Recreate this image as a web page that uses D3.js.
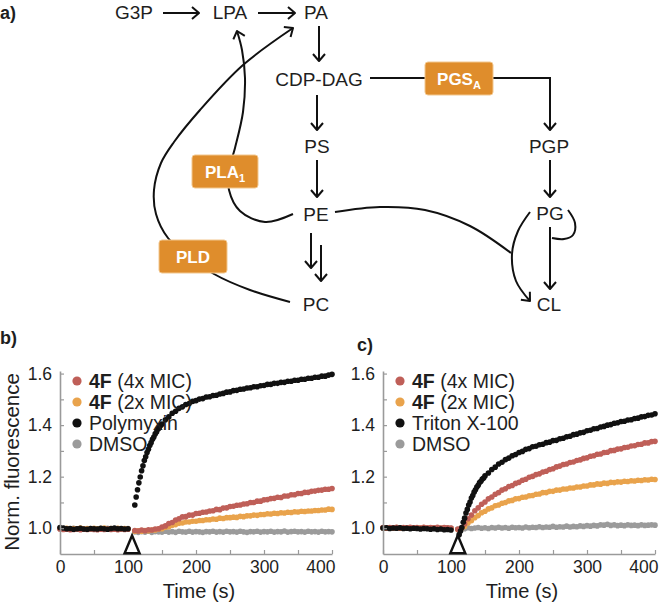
<!DOCTYPE html>
<html>
<head>
<meta charset="utf-8">
<script src="https://cdn.jsdelivr.net/npm/d3@7"></script>
<style>
  body { margin: 0; background: #fff; }
  svg text { font-family: "Helvetica Neue", "Liberation Sans", Arial, sans-serif; fill: #1e1e1e; }
</style>
</head>
<body>
<div id="figure"></div>
<script>
// ---- pathway (panel a) ----
const pathwayNodes = ["G3P", "LPA", "PA", "CDP-DAG", "PS", "PE", "PC", "PGP", "PG", "CL"];
const enzymeNames = ["PGS", "PLA", "PLD"];
const enzymeSubs = ["A", "1", ""];

// ---- shared axes ----
const yTicks = [1.0, 1.1, 1.2, 1.3, 1.4, 1.5, 1.6];
const yLabels = [1.0, 1.2, 1.4, 1.6];
const xTicks = [0, 50, 100, 150, 200, 250, 300, 350, 400];
const xLabels = [0, 100, 200, 300, 400];

// ---- sample times (s) ----
const preTime = [0,5,10,15,20,25,30,35,40,45,50,55,60,65,70,75,80,85,90,95,100];
const postTime = [110,115,120,125,130,135,140,145,150,155,160,165,170,175,180,185,190,195,200,205,
  210,215,220,225,230,235,240,245,250,255,260,265,270,275,280,285,290,295,300,305,
  310,315,320,325,330,335,340,345,350,355,360,365,370,375,380,385,390,395,400];
const polymyxinTime = [110,112,114,116,118,120,122,124,126,128,130,132,134,136,138,140,142,144,146,148,150,
  155,160,165,170,175,180,185,190,195,200,205,210,215,220,225,230,235,240,245,250,
  255,260,265,270,275,280,285,290,295,300,305,310,315,320,325,330,335,340,345,350,
  355,360,365,370,375,380,385,390,395,400];
const tritonTime = [112,114,116,118,120,122,124,126,128,130,132,134,136,138,140,142,144,146,148,150,
  155,160,165,170,175,180,185,190,195,200,205,210,215,220,225,230,235,240,245,250,
  255,260,265,270,275,280,285,290,295,300,305,310,315,320,325,330,335,340,345,350,
  355,360,365,370,375,380,385,390,395,400];

// ---- panel b ----
const legendB = ["Polymyxin", "DMSO"];
const injectB = 106;
const redBPre = [0.997,0.995,0.996,0.994,0.995,0.997,0.994,0.996,0.995,0.997,0.995,0.994,0.996,0.995,0.997,0.995,0.996,0.994,0.997,0.995,0.996];
const orangeBPre = [0.999,0.998,1.000,0.997,0.999,0.998,1.001,0.997,0.999,0.998,1.000,0.998,0.999,1.001,0.998,0.999,0.997,1.000,0.998,0.999,0.997];
const blackBPre = [1.003,1.001,0.998,0.999,0.996,0.998,1.000,0.997,0.996,0.999,0.998,0.997,1.000,0.998,0.996,0.999,1.001,0.998,0.999,0.997,0.998];
const grayBPre = [0.998,0.999,0.997,0.998,1.000,0.997,0.999,0.998,0.996,0.999,0.998,0.997,0.999,0.998,1.000,0.997,0.998,0.999,0.997,0.998,0.999];
const redB = [0.991,0.989,0.993,0.990,0.994,0.993,0.997,0.998,1.005,1.009,
  1.018,1.022,1.032,1.037,1.044,1.045,1.051,1.051,1.057,1.058,
  1.062,1.063,1.067,1.068,1.073,1.072,1.078,1.079,1.084,1.085,
  1.089,1.090,1.094,1.095,1.100,1.100,1.105,1.105,1.110,1.111,
  1.115,1.116,1.120,1.119,1.125,1.125,1.130,1.130,1.135,1.135,
  1.139,1.139,1.143,1.144,1.147,1.148,1.151,1.151,1.154];
const orangeB = [0.988,0.990,0.988,0.991,0.990,0.993,0.993,0.997,0.998,1.004,
  1.006,1.012,1.014,1.019,1.020,1.024,1.024,1.027,1.027,1.030,
  1.030,1.033,1.033,1.036,1.035,1.039,1.038,1.041,1.041,1.043,
  1.042,1.046,1.045,1.048,1.048,1.051,1.050,1.053,1.053,1.056,
  1.055,1.058,1.057,1.060,1.059,1.062,1.061,1.064,1.063,1.066,
  1.065,1.067,1.067,1.069,1.069,1.071,1.071,1.074,1.073];
const grayB = [0.986,0.984,0.987,0.985,0.988,0.984,0.987,0.986,0.985,0.988,
  0.985,0.987,0.984,0.988,0.986,0.985,0.988,0.985,0.987,0.986,
  0.984,0.987,0.986,0.988,0.985,0.987,0.985,0.988,0.986,0.987,
  0.985,0.988,0.986,0.984,0.987,0.986,0.988,0.985,0.987,0.986,
  0.988,0.985,0.987,0.986,0.989,0.985,0.987,0.988,0.986,0.987,
  0.985,0.988,0.986,0.987,0.985,0.988,0.986,0.987,0.986];
const polymyxin = [1.090,1.121,1.149,1.176,1.199,1.223,1.242,1.263,1.277,1.294,1.306,1.321,1.332,1.345,1.354,1.366,1.373,1.384,1.390,1.399,1.404,
  1.421,1.432,1.446,1.454,1.465,1.471,1.480,1.484,1.492,1.495,
  1.501,1.503,1.509,1.510,1.515,1.516,1.521,1.523,1.528,1.529,
  1.534,1.535,1.539,1.540,1.544,1.545,1.549,1.549,1.553,1.554,
  1.558,1.558,1.562,1.562,1.566,1.566,1.570,1.570,1.574,1.574,
  1.578,1.578,1.582,1.582,1.586,1.586,1.590,1.590,1.594,1.597];

// ---- panel c ----
const legendC = ["Triton X-100", "DMSO"];
const injectC = 110;
const redCPre = [1.003,1.001,1.003,1.002,1.004,1.001,1.003,1.002,1.004,1.002,1.003,1.001,1.004,1.002,1.003,1.002,1.004,1.001,1.003,1.002,1.001];
const orangeCPre = [1.002,1.000,1.002,1.001,1.003,1.000,1.002,1.001,1.002,1.000,1.002,1.001,1.003,1.000,1.002,1.001,1.002,1.000,1.001,1.000,0.999];
const blackCPre = [1.001,1.002,0.999,1.001,1.000,1.002,0.999,1.000,0.998,1.000,0.999,0.997,0.999,0.998,0.996,0.998,0.995,0.997,0.994,0.995,0.993];
const grayCPre = [1.001,1.002,1.000,1.001,1.002,1.000,1.001,1.002,1.000,1.001,1.002,1.000,1.001,1.001,1.000,1.002,1.001,1.000,1.001,1.002,1.000];
const redC = [0.996,1.001,1.017,1.037,1.051,1.068,1.079,1.093,1.102,1.114,
  1.121,1.132,1.138,1.148,1.153,1.162,1.166,1.174,1.178,1.186,
  1.190,1.198,1.201,1.208,1.211,1.218,1.221,1.228,1.231,1.238,
  1.241,1.247,1.249,1.255,1.257,1.263,1.265,1.271,1.273,1.279,
  1.281,1.287,1.288,1.294,1.295,1.301,1.302,1.307,1.308,1.313,
  1.314,1.319,1.320,1.325,1.326,1.331,1.331,1.336,1.337];
const orangeC = [0.995,0.999,1.007,1.020,1.029,1.041,1.049,1.060,1.066,1.075,
  1.079,1.087,1.090,1.097,1.100,1.106,1.108,1.114,1.115,1.120,
  1.121,1.126,1.127,1.132,1.133,1.138,1.138,1.143,1.143,1.148,
  1.148,1.152,1.152,1.156,1.156,1.160,1.160,1.164,1.164,1.168,
  1.168,1.172,1.171,1.175,1.174,1.178,1.177,1.180,1.179,1.182,
  1.181,1.184,1.183,1.186,1.185,1.188,1.187,1.190,1.189];
const grayC = [0.997,1.000,0.998,1.002,0.999,1.001,1.003,1.000,1.002,0.999,
  1.003,1.001,1.004,1.001,1.003,1.000,1.004,1.002,1.003,1.001,
  1.005,1.002,1.004,1.003,1.006,1.003,1.005,1.004,1.007,1.004,
  1.006,1.005,1.008,1.005,1.007,1.006,1.009,1.007,1.010,1.008,
  1.011,1.009,1.013,1.012,1.015,1.011,1.013,1.010,1.012,1.010,
  1.013,1.011,1.012,1.010,1.013,1.011,1.012,1.013,1.012];
const triton = [0.975,0.989,1.003,1.023,1.039,1.059,1.073,1.090,1.102,1.117,1.127,1.140,1.149,1.160,1.167,1.177,1.182,1.191,1.195,1.203,
  1.214,1.228,1.237,1.249,1.256,1.266,1.272,1.281,1.286,1.294,
  1.298,1.306,1.309,1.316,1.318,1.324,1.326,1.332,1.334,1.340,
  1.341,1.347,1.349,1.355,1.357,1.363,1.365,1.370,1.372,1.378,
  1.380,1.386,1.387,1.393,1.395,1.400,1.402,1.407,1.409,1.414,
  1.415,1.420,1.421,1.426,1.427,1.432,1.433,1.438,1.439,1.444];

// colours
const RED = "#bf5f58", ORANGE = "#e9a34c", BLACK = "#111", GRAY = "#9b9b9b", BOX = "#df8d2c";

const width = 666, height = 612;
const svg = d3.select("#figure").append("svg")
  .attr("width", width)
  .attr("height", height);

const defs = svg.append("defs");
defs.append("marker")
  .attr("id", "arrow")
  .attr("viewBox", "-10 -8 12 16")
  .attr("markerUnits", "userSpaceOnUse")
  .attr("markerWidth", 12)
  .attr("markerHeight", 16)
  .attr("refX", 0).attr("refY", 0)
  .attr("orient", "auto")
  .append("path")
  .attr("d", "M-7,-6 L0,0 L-7,6")
  .attr("fill", "none")
  .attr("stroke", "#111")
  .attr("stroke-width", 2)
  .attr("stroke-linejoin", "round");

drawPathway();
drawTrace({
  left: 60, letter: "b)", letterX: 0, letterY: 344, yTitle: true,
  legend: legendB, inject: injectB,
  series: [
    {color: GRAY, t: preTime.concat(postTime), v: grayBPre.concat(grayB)},
    {color: ORANGE, t: preTime.concat(postTime), v: orangeBPre.concat(orangeB)},
    {color: RED, t: preTime.concat(postTime), v: redBPre.concat(redB)},
    {color: BLACK, t: preTime.concat(polymyxinTime), v: blackBPre.concat(polymyxin)}
  ]
});
drawTrace({
  left: 383, letter: "c)", letterX: 357, letterY: 351, yTitle: false,
  legend: legendC, inject: injectC,
  series: [
    {color: GRAY, t: preTime.concat(postTime), v: grayCPre.concat(grayC)},
    {color: ORANGE, t: preTime.concat(postTime), v: orangeCPre.concat(orangeC)},
    {color: RED, t: preTime.concat(postTime), v: redCPre.concat(redC)},
    {color: BLACK, t: preTime.concat(tritonTime), v: blackCPre.concat(triton)}
  ]
});

function drawPathway() {
  const pos = {
    "G3P": [134, 12], "LPA": [230, 12], "PA": [316, 12], "CDP-DAG": [319, 79],
    "PS": [317, 146], "PE": [316, 214], "PC": [316, 304],
    "PGP": [549, 146], "PG": [550, 213], "CL": [549, 304]
  };
  const g = svg.append("g");

  g.append("text").attr("x", 0).attr("y", 19)
    .attr("font-size", 18).attr("font-weight", "bold").text("a)");

  const straight = [
    [[163, 13], [199, 13]], [[258, 13], [295, 13]], [[319, 26], [319, 61]],
    [[317, 95], [317, 130]], [[317, 160], [317, 197]],
    [[311, 233], [311, 268]], [[321, 245], [321, 281]],
    [[550, 160], [550, 197]], [[550, 227], [550, 289]],
    [[370, 78], [550, 78], [550, 130]]
  ];
  const curves = [
    // PE -> LPA (PLA1)
    {pts: [[293, 214], [265, 222], [240, 211], [229, 190], [229, 170], [235, 148], [243, 112], [245, 78], [242, 50], [237, 31]], arrow: true},
    // PC -> PA (PLD)
    {pts: [[290, 302], [250, 290], [214, 274], [190, 257], [168, 238], [156, 214], [154, 190], [161, 163], [174, 142], [200, 110], [243, 65], [293, 28]], arrow: true},
    // PE -> CL
    {pts: [[335, 212], [380, 207], [425, 210], [470, 226], [511, 253]], arrow: false},
    // PG -> CL
    {pts: [[530, 212], [518, 231], [512, 254], [516, 281], [530, 301]], arrow: true},
    // PG hook
    {pts: [[568, 210], [575, 223], [573, 235], [564, 239], [552, 238]], arrow: false}
  ];

  const line = d3.line().curve(d3.curveCatmullRom.alpha(0.5));
  const lineStraight = d3.line();

  g.selectAll("path.curve").data(curves).join("path")
    .attr("class", "curve")
    .attr("d", d => line(d.pts))
    .attr("fill", "none").attr("stroke", "#111").attr("stroke-width", 2)
    .attr("marker-end", d => d.arrow ? "url(#arrow)" : null);

  g.selectAll("path.straight").data(straight).join("path")
    .attr("class", "straight")
    .attr("d", d => lineStraight(d))
    .attr("fill", "none").attr("stroke", "#111").attr("stroke-width", 2)
    .attr("marker-end", "url(#arrow)");

  g.selectAll("text.node").data(pathwayNodes).join("text")
    .attr("class", "node")
    .attr("x", d => pos[d][0]).attr("y", d => pos[d][1])
    .attr("dy", "0.36em")
    .attr("text-anchor", "middle")
    .attr("font-size", 19)
    .text(d => d);

  const boxes = [[425, 62, 68, 33], [192, 155, 66, 33], [159, 240, 68, 33]];
  const eg = g.selectAll("g.enzyme").data(enzymeNames).join("g").attr("class", "enzyme");
  eg.append("rect")
    .attr("x", (d, i) => boxes[i][0]).attr("y", (d, i) => boxes[i][1])
    .attr("width", (d, i) => boxes[i][2]).attr("height", (d, i) => boxes[i][3])
    .attr("rx", 3).attr("fill", BOX).attr("stroke", "#f2c78e").attr("stroke-width", 1);
  const et = eg.append("text")
    .attr("x", (d, i) => boxes[i][0] + boxes[i][2] / 2)
    .attr("y", (d, i) => boxes[i][1] + boxes[i][3] / 2)
    .attr("dy", "0.36em")
    .attr("text-anchor", "middle")
    .attr("font-weight", "bold")
    .attr("font-size", 17)
    .style("fill", "#fff");
  et.append("tspan").text(d => d).style("fill", "#fff");
  et.append("tspan")
    .attr("font-size", 11).attr("dy", 4)
    .style("fill", "#fff")
    .text((d, i) => enzymeSubs[i]);
}

function drawTrace(o) {
  const x = d3.scaleLinear().domain([0, 400]).range([o.left, o.left + 272]);
  const y = d3.scaleLinear().domain([0.9, 1.61]).range([554, 371]);
  const g = svg.append("g");

  g.append("text").attr("x", o.letterX).attr("y", o.letterY)
    .attr("font-size", 18).attr("font-weight", "bold").text(o.letter);

  // data
  o.series.forEach(s => {
    g.append("g").selectAll("circle")
      .data(d3.zip(s.t, s.v))
      .join("circle")
      .attr("cx", d => x(d[0]))
      .attr("cy", d => y(d[1]))
      .attr("r", 2.8)
      .attr("fill", s.color);
  });

  // axes
  const xAxis = g.append("g")
    .attr("transform", "translate(0," + y(0.9) + ")")
    .call(d3.axisBottom(x).tickValues(xTicks).tickSizeInner(-4).tickSizeOuter(0).tickPadding(7)
      .tickFormat(d => xLabels.includes(d) ? d : ""));
  const yAxis = g.append("g")
    .attr("transform", "translate(" + o.left + ",0)")
    .call(d3.axisLeft(y).tickValues(yTicks).tickSizeInner(-4).tickSizeOuter(0).tickPadding(8)
      .tickFormat(d => yLabels.some(v => Math.abs(v - d) < 1e-6) ? d3.format(".1f")(d) : ""));
  [xAxis, yAxis].forEach(a => {
    a.attr("font-size", null).attr("font-family", null);
    a.select(".domain").attr("stroke", "#9a9a9a").attr("stroke-width", 1.6);
    a.selectAll(".tick line").attr("stroke", "#9a9a9a").attr("stroke-width", 1.2);
    a.selectAll(".tick text").attr("font-size", 17.5).attr("fill", "#222");
  });
  // keep the last label inside the panel
  xAxis.selectAll(".tick text").filter(d => d === 400)
    .attr("text-anchor", "end").attr("x", 3);

  g.append("text")
    .attr("x", (x(0) + x(400)) / 2 + 3).attr("y", 598)
    .attr("text-anchor", "middle").attr("font-size", 20)
    .text("Time (s)");

  if (o.yTitle) {
    g.append("text")
      .attr("transform", "translate(12," + 462 + ") rotate(-90)")
      .attr("dy", "0.36em")
      .attr("text-anchor", "middle").attr("font-size", 20.5)
      .text("Norm. fluorescence");
  }

  // injection marker
  const cx = x(o.inject);
  g.append("path")
    .attr("d", d3.line()([[cx, y(0.972)], [cx + 7.5, y(0.903)], [cx - 7.5, y(0.903)]]) + "Z")
    .attr("fill", "#fff").attr("stroke", "#111").attr("stroke-width", 2.4);

  // legend
  const colors = [RED, ORANGE, BLACK, GRAY];
  const rows = [381, 402, 423, 444];
  const lg = g.append("g");
  colors.forEach((c, i) => {
    lg.append("circle").attr("cx", o.left + 17).attr("cy", rows[i]).attr("r", 4.6).attr("fill", c);
    const t = lg.append("text")
      .attr("x", o.left + 29).attr("y", rows[i]).attr("dy", "0.36em")
      .attr("font-size", 19.5)
      .style("white-space", "pre");
    if (i < 2) {
      t.append("tspan").attr("font-weight", "bold").text("4F");
      t.append("tspan").text(i === 0 ? " (4x MIC)" : " (2x MIC)");
    } else {
      t.text(o.legend[i - 2]);
    }
  });
}
</script>
</body>
</html>
